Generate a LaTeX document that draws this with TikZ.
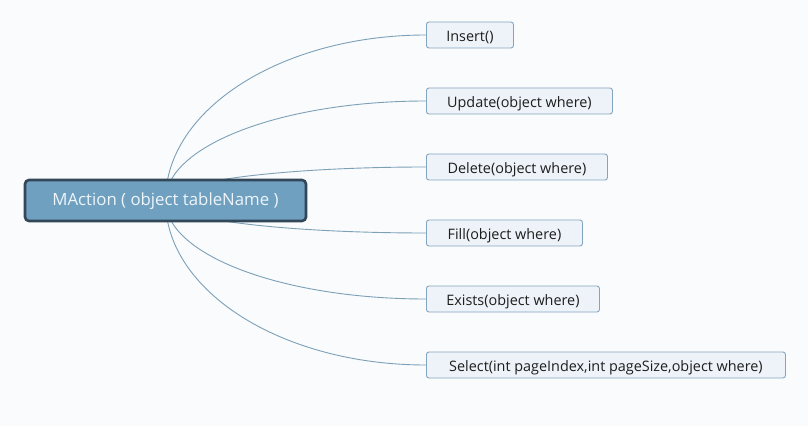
\documentclass[tikz,border=0pt]{standalone}
\usepackage{fontspec}
\setmainfont{Open Sans}
\usetikzlibrary{calc,backgrounds}
\definecolor{bgc}{RGB}{250,251,252}
\definecolor{rootfill}{RGB}{111,160,192}
\definecolor{rootdraw}{RGB}{50,72,88}
\definecolor{rootText}{RGB}{238,245,250}
\definecolor{kidfill}{RGB}{237,243,248}
\definecolor{kiddraw}{RGB}{132,165,192}
\definecolor{kidtext}{RGB}{30,30,30}
\definecolor{linkc}{RGB}{125,160,185}
\tikzset{
  rootbox/.style={draw=rootdraw, line width=2.6pt, fill=rootfill, rounded corners=4pt,
    minimum width=281pt, minimum height=41pt, inner sep=0pt, text=rootText,
    text height=12pt, text depth=2.6pt,
    font=\fontsize{16.8pt}{19pt}\selectfont},
  kidbox/.style={draw=kiddraw, line width=0.9pt, fill=kidfill, rounded corners=2.5pt,
    minimum height=26pt, inner sep=0pt, anchor=west, text=kidtext,
    text height=13pt, text depth=0.3pt,
    font=\fontsize{14.4pt}{16pt}\selectfont},
  link/.style={draw=linkc, line width=0.9pt},
}
\begin{document}
\begin{tikzpicture}[x=1pt,y=1pt]
\useasboundingbox (0,0) rectangle (808,426);
\node[rootbox] (root) at (165.5,225.5) {MAction ( object tableName )};
\node[kidbox, minimum width=87pt]  (k1) at (426,391) {Insert()};
\node[kidbox, minimum width=186pt] (k2) at (426,325) {Update(object where)};
\node[kidbox, minimum width=181pt] (k3) at (426,259) {Delete(object where)};
\node[kidbox, minimum width=156pt] (k4) at (426,193) {Fill(object where)};
\node[kidbox, minimum width=173pt] (k5) at (426,127) {Exists(object where)};
\node[kidbox, minimum width=359pt] (k6) at (426,61)  {Select(int pageIndex,int pageSize,object where)};
\begin{scope}[on background layer]
\fill[bgc] (0,0) rectangle (808,426);
\foreach \k in {k1,k2,k3} {
  \draw[link] let \p1=(root.center), \p2=(\k.west) in
    (\p1) arc[start angle=180, end angle=90, x radius={\x2-\x1}, y radius={\y2-\y1}];
}
\foreach \k in {k4,k5,k6} {
  \draw[link] let \p1=(root.center), \p2=(\k.west) in
    (\p1) arc[start angle=180, end angle=270, x radius={\x2-\x1}, y radius={\y1-\y2}];
}
\end{scope}
\end{tikzpicture}
\end{document}
